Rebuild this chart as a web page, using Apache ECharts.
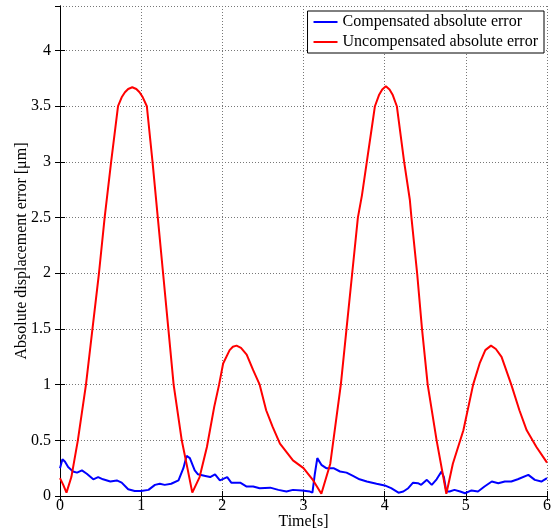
<!DOCTYPE html>
<html>
<head>
<meta charset="utf-8">
<script src="https://cdn.jsdelivr.net/npm/echarts@6/dist/echarts.min.js"></script>
<style>
html, body { margin: 0; padding: 0; background: #fff; }
#chart { width: 554px; height: 532px; }
</style>
</head>
<body>
<div id="chart"></div>
<script>
// compensated absolute error (blue)
var compT = [0, 0.03, 0.06, 0.10, 0.16, 0.21, 0.27, 0.33, 0.41, 0.47, 0.53, 0.62, 0.70, 0.76, 0.84, 0.92,
	1.0, 1.09, 1.17, 1.23, 1.29, 1.37, 1.46, 1.52, 1.56, 1.60, 1.66, 1.70, 1.79, 1.85, 1.91, 1.97,
	2.06, 2.11, 2.22, 2.30, 2.38, 2.46, 2.59, 2.69, 2.79, 2.87, 2.98, 3.08, 3.11, 3.14, 3.17, 3.22,
	3.28, 3.37, 3.45, 3.53, 3.61, 3.69, 3.78, 3.90, 4.0, 4.08, 4.17, 4.23, 4.29, 4.35, 4.41, 4.45,
	4.52, 4.58, 4.64, 4.70, 4.73, 4.76, 4.80, 4.86, 4.93, 4.99, 5.07, 5.15, 5.23, 5.32, 5.40, 5.48,
	5.56, 5.64, 5.77, 5.85, 5.93, 6.0];
var compV = [0.25, 0.33, 0.31, 0.26, 0.22, 0.21, 0.23, 0.20, 0.15, 0.17, 0.15, 0.13, 0.14, 0.12, 0.06, 0.045,
	0.045, 0.055, 0.10, 0.11, 0.10, 0.11, 0.14, 0.25, 0.36, 0.34, 0.23, 0.195, 0.18, 0.17, 0.195, 0.14,
	0.17, 0.12, 0.12, 0.085, 0.085, 0.07, 0.075, 0.055, 0.04, 0.055, 0.05, 0.04, 0.03, 0.20, 0.34, 0.28,
	0.25, 0.25, 0.22, 0.21, 0.18, 0.15, 0.13, 0.11, 0.095, 0.07, 0.03, 0.04, 0.07, 0.12, 0.115, 0.10,
	0.145, 0.10, 0.15, 0.22, 0.17, 0.04, 0.04, 0.055, 0.04, 0.025, 0.05, 0.04, 0.085, 0.13, 0.115, 0.13,
	0.13, 0.15, 0.19, 0.145, 0.13, 0.16];

// uncompensated absolute error (red)
var uncompT = [0, 0.04, 0.08, 0.14, 0.22, 0.32, 0.40, 0.48, 0.55, 0.63, 0.715, 0.76, 0.80, 0.84, 0.89,
	0.94, 0.98, 1.02, 1.07, 1.14, 1.205, 1.27, 1.335, 1.40, 1.50, 1.57, 1.63, 1.72, 1.81, 1.90, 1.96,
	2.01, 2.09, 2.13, 2.175, 2.23, 2.30, 2.38, 2.46, 2.54, 2.62, 2.71, 2.87, 3.0, 3.12, 3.22, 3.33,
	3.46, 3.53, 3.60, 3.67, 3.72, 3.78, 3.84, 3.88, 3.93, 3.97, 4.015, 4.06, 4.10, 4.15, 4.24, 4.31,
	4.33, 4.40, 4.46, 4.53, 4.64, 4.76, 4.84, 4.97, 5.09, 5.17, 5.24, 5.31, 5.37, 5.44, 5.56, 5.66,
	5.75, 5.87, 6.0];
var uncompV = [0.16, 0.10, 0.03, 0.17, 0.50, 1.0, 1.5, 2.0, 2.5, 3.0, 3.5, 3.58, 3.625, 3.655, 3.67,
	3.655, 3.625, 3.58, 3.5, 3.0, 2.5, 2.0, 1.5, 1.0, 0.5, 0.25, 0.03, 0.17, 0.44, 0.80, 1.0,
	1.19, 1.31, 1.34, 1.35, 1.33, 1.27, 1.13, 1.0, 0.77, 0.62, 0.47, 0.32, 0.25, 0.14, 0.02, 0.29,
	1.0, 1.5, 2.0, 2.5, 2.7, 3.0, 3.3, 3.5, 3.6, 3.65, 3.68, 3.65, 3.6, 3.5, 3.0, 2.66,
	2.5, 2.0, 1.5, 1.0, 0.5, 0.02, 0.29, 0.59, 1.0, 1.19, 1.31, 1.35, 1.32, 1.25, 1.0, 0.77,
	0.59, 0.44, 0.30];

var seriesNames = ["Compensated absolute error", "Uncompensated absolute error"];

function pairs(t, v) {
	var out = [], i;
	for (i = 0; i < t.length; i++)
		out.push([t[i], v[i]]);
	return out;
}

var font = "'Liberation Serif', 'Times New Roman', serif";
var gridLine = { show: true, lineStyle: { color: '#777', type: [1, 2], width: 1 } };

var chart = echarts.init(document.getElementById('chart'), null, { renderer: 'canvas' });

chart.setOption({
	animation: false,
	backgroundColor: '#fff',
	textStyle: { fontFamily: font },
	grid: { left: 60, right: 7, top: 6, bottom: 36, containLabel: false, outerBoundsMode: 'none' },
	legend: {
		data: seriesNames,
		orient: 'vertical',
		right: 10,
		top: 11,
		padding: [3, 6, 3, 6],
		itemGap: 4,
		icon: 'rect',
		itemWidth: 24,
		itemHeight: 2,
		backgroundColor: '#fff',
		borderColor: '#000',
		borderWidth: 1,
		textStyle: { fontFamily: font, fontSize: 16, color: '#000', lineHeight: 16 }
	},
	xAxis: [
		{
			type: 'value', min: 0, max: 6, interval: 1,
			name: 'Time[s]', nameLocation: 'middle', nameGap: 18, nameMoveOverlap: false,
			nameTextStyle: { fontFamily: font, fontSize: 16, color: '#000' },
			axisLine: { show: true, lineStyle: { color: '#000', width: 1 } },
			axisTick: { show: true, inside: true, length: 5, lineStyle: { color: '#000' } },
			axisLabel: { fontFamily: font, fontSize: 16, color: '#000', margin: 2 },
			splitLine: gridLine
		},
		{
			type: 'value', min: 0, max: 6, interval: 1, position: 'top',
			axisLine: { show: true, lineStyle: { color: '#000', width: 1 } },
			axisTick: { show: true, inside: true, length: 5, lineStyle: { color: '#000' } },
			axisLabel: { show: false },
			splitLine: { show: false }
		}
	],
	yAxis: [
		{
			type: 'value', min: 0, max: 4.4, interval: 0.5,
			name: 'Absolute displacement error [\u03bcm]', nameLocation: 'middle', nameGap: 30, nameMoveOverlap: false,
			nameTextStyle: { fontFamily: font, fontSize: 16, color: '#000' },
			axisLine: { show: true, lineStyle: { color: '#000', width: 1 } },
			axisTick: { show: true, inside: true, length: 5, lineStyle: { color: '#000' } },
			axisLabel: { fontFamily: font, fontSize: 16, color: '#000', margin: 9, showMaxLabel: false },
			splitLine: gridLine
		},
		{
			type: 'value', min: 0, max: 4.4, interval: 0.5, position: 'right',
			axisLine: { show: true, lineStyle: { color: '#000', width: 1 } },
			axisTick: { show: true, inside: true, length: 5, lineStyle: { color: '#000' } },
			axisLabel: { show: false },
			splitLine: { show: false }
		}
	],
	series: [
		{
			name: seriesNames[0],
			type: 'line',
			data: pairs(compT, compV),
			symbol: 'none',
			color: '#0000ff',
			lineStyle: { color: '#0000ff', width: 2 }
		},
		{
			name: seriesNames[1],
			type: 'line',
			data: pairs(uncompT, uncompV),
			symbol: 'none',
			color: '#ff0000',
			lineStyle: { color: '#ff0000', width: 2 }
		}
	]
});
</script>
</body>
</html>
